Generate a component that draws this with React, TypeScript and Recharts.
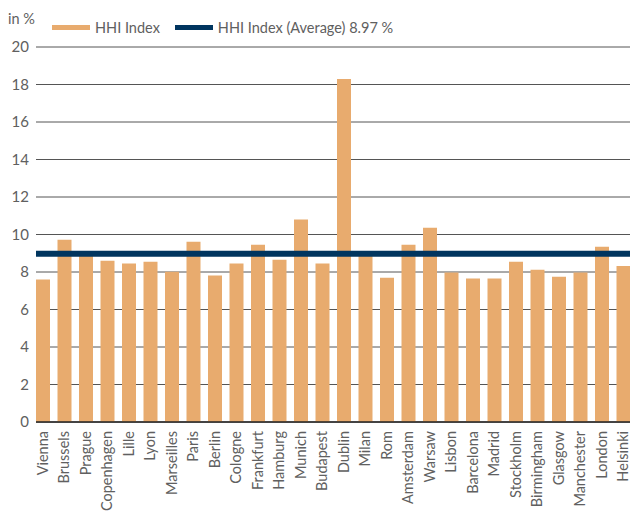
import React from 'react'
import {
  BarChart,
  Bar,
  XAxis,
  YAxis,
  CartesianGrid,
  ReferenceLine,
} from 'recharts'

// Cities on the x-axis
const cities = [
  'Vienna', 'Brussels', 'Prague', 'Copenhagen', 'Lille', 'Lyon', 'Marseilles',
  'Paris', 'Berlin', 'Cologne', 'Frankfurt', 'Hamburg', 'Munich', 'Budapest',
  'Dublin', 'Milan', 'Rom', 'Amsterdam', 'Warsaw', 'Lisbon', 'Barcelona',
  'Madrid', 'Stockholm', 'Birmingham', 'Glasgow', 'Manchester', 'London', 'Helsinki',
]

// HHI index per city, in %
const hhiValues = [
  7.6, 9.72, 9.0, 8.6, 8.45, 8.55, 8.02,
  9.62, 7.82, 8.45, 9.45, 8.65, 10.8, 8.45,
  18.3, 8.95, 7.7, 9.45, 10.36, 7.97, 7.65,
  7.65, 8.55, 8.12, 7.75, 7.97, 9.35, 8.32,
]

const hhiAverage = 8.97

const yTicks = [0, 2, 4, 6, 8, 10, 12, 14, 16, 18, 20]

const ORANGE = '#E8AB6E'
const NAVY = '#00355F'
const TEXT = '#606060'
const FONT = 'Lato, "Open Sans", sans-serif'

const data = cities.map((city, i) => ({ city, hhi: hhiValues[i] }))

function CityTick({ x, y, payload }: any) {
  return (
    <text
      x={x}
      y={y}
      transform={`rotate(-90, ${x}, ${y})`}
      textAnchor="end"
      dy="0.36em"
      dx={-1}
      fontSize={14.5}
      fill={TEXT}
      fontFamily={FONT}
    >
      {payload.value}
    </text>
  )
}

function LegendItem({ color, label }: { color: string; label: string }) {
  return (
    <div style={{ display: 'flex', alignItems: 'center', marginRight: 15 }}>
      <span style={{ display: 'inline-block', width: 38, height: 5, background: color, marginRight: 5 }} />
      <span>{label}</span>
    </div>
  )
}

export default function App() {
  return (
    <div style={{ position: 'absolute', left: 0, top: 0, width: 630, height: 511, background: '#fff', overflow: 'hidden' }}>
      <div
        style={{
          position: 'absolute',
          left: 8,
          top: 10,
          fontFamily: FONT,
          fontSize: 14.5,
          color: TEXT,
        }}
      >
        in %
      </div>
      <div
        style={{
          position: 'absolute',
          left: 52,
          top: 19,
          display: 'flex',
          fontFamily: FONT,
          fontSize: 14.5,
          color: TEXT,
          lineHeight: '17px',
          zIndex: 1,
        }}
      >
        <LegendItem color={ORANGE} label="HHI Index" />
        <LegendItem color={NAVY} label={`HHI Index (Average) ${hhiAverage} %`} />
      </div>
      <BarChart
        width={630}
        height={511}
        data={data}
        margin={{ top: 47, right: -4, left: 0, bottom: 0 }}
      >
        <CartesianGrid vertical={false} stroke="#555" strokeWidth={1} />
        <XAxis
          dataKey="city"
          interval={0}
          height={89}
          tick={<CityTick />}
          tickLine={false}
          axisLine={{ stroke: '#222', strokeWidth: 1.5 }}
          padding={{ left: -4, right: 0 }}
        />
        <YAxis
          width={36}
          domain={[0, 20]}
          ticks={yTicks}
          tickLine={false}
          axisLine={false}
          tickMargin={1}
          tick={{ fontSize: 15, fill: TEXT, fontFamily: FONT }}
        />
        <Bar dataKey="hhi" fill={ORANGE} barSize={14} isAnimationActive={false} />
        <ReferenceLine y={hhiAverage} stroke={NAVY} strokeWidth={6} />
      </BarChart>
    </div>
  )
}
